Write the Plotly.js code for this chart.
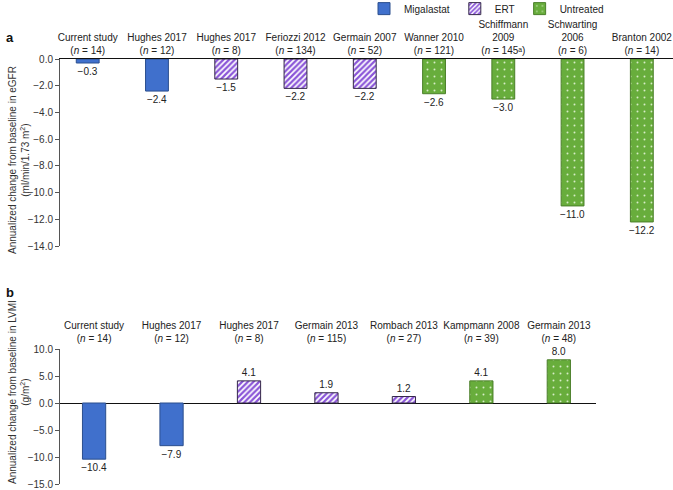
<!DOCTYPE html>
<html>
<head>
<meta charset="utf-8">
<script src="https://cdn.plot.ly/plotly-3.0.1.min.js"></script>
<style>html,body{margin:0;padding:0;background:#fff;}#chart{width:673px;height:490px;}</style>
</head>
<body>
<div id="chart"></div>
<script>
// ---- Data: panel a (eGFR) ----
const studiesA = ["Current study", "Hughes 2017", "Hughes 2017", "Feriozzi 2012", "Germain 2007", "Wanner 2010", "Schiffmann<br>2009", "Schwarting<br>2006", "Branton 2002"];
const nA = ["14", "12", "8", "134", "52", "121", "145\u1d43", "6", "14"];
const groupA = ["Migalastat", "Migalastat", "ERT", "ERT", "ERT", "Untreated", "Untreated", "Untreated", "Untreated"];
const egfrChange = [-0.3, -2.4, -1.5, -2.2, -2.2, -2.6, -3.0, -11.0, -12.2];

// ---- Data: panel b (LVMI) ----
const studiesB = ["Current study", "Hughes 2017", "Hughes 2017", "Germain 2013", "Rombach 2013", "Kampmann 2008", "Germain 2013"];
const nB = ["14", "12", "8", "115", "27", "39", "48"];
const groupB = ["Migalastat", "Migalastat", "ERT", "ERT", "ERT", "Untreated", "Untreated"];
const lvmiChange = [-10.4, -7.9, 4.1, 1.9, 1.2, 4.1, 8.0];

const groups = ["Migalastat", "ERT", "Untreated"];

// ---- Styles ----
const FONT = "Liberation Sans, Arial, Helvetica, sans-serif";
const styles = {
  Migalastat: {marker: {color: "#4070cc", line: {color: "#2b4f8e", width: 1}}},
  ERT: {marker: {color: "#ffffff", line: {color: "#35284a", width: 1},
         pattern: {shape: "/", fgcolor: "#8a55d8", bgcolor: "#ffffff", fgopacity: 1, size: 4, solidity: 0.55, fillmode: "overlay"}}},
  Untreated: {marker: {color: "#6aae3e", line: {color: "#4b7f2a", width: 1},
         pattern: {shape: ".", fgcolor: "#e4f3d6", bgcolor: "#68ad3c", fgopacity: 0.9, size: 7, solidity: 0.06, fillmode: "overlay"}}}
};

const labelsA = studiesA.map((s, i) => s + "<br>(<i>n</i> = " + nA[i] + ")");
const labelsB = studiesB.map((s, i) => s + "<br>(<i>n</i> = " + nB[i] + ")");
const fmt = v => v.toFixed(1).replace("-", "\u2212");

function makeTraces(labels, values, grp, xa, ya, showLegend, w) {
  return groups.map(g => {
    const idx = grp.map((v, i) => v === g ? i : -1).filter(i => i >= 0);
    return Object.assign({
      type: "bar", name: g, legendgroup: g, showlegend: showLegend,
      x: idx.map(i => labels[i]), y: idx.map(i => values[i]),
      text: idx.map(i => fmt(values[i])), textposition: "outside",
      textfont: {family: FONT, size: 10, color: "#222"},
      constraintext: "none", cliponaxis: false, width: w,
      xaxis: xa, yaxis: ya, hoverinfo: "skip"
    }, JSON.parse(JSON.stringify(styles[g])));
  });
}

const data = [].concat(
  makeTraces(labelsA, egfrChange, groupA, "x", "y", true, 0.33),
  makeTraces(labelsB, lvmiChange, groupB, "x2", "y2", false, 0.3)
);

const W = 673, H = 490;
const px = v => v / W, py = v => 1 - v / H;

const axisFont = {family: FONT, size: 10, color: "#333"};
const layout = {
  width: W, height: H,
  margin: {l: 0, r: 0, t: 0, b: 0, autoexpand: false},
  paper_bgcolor: "#fff", plot_bgcolor: "#fff",
  font: {family: FONT, size: 10, color: "#222"},
  barmode: "overlay",
  showlegend: true,
  legend: {orientation: "h", x: px(364), xanchor: "left", y: 1.012, yanchor: "top",
           font: {family: FONT, size: 10, color: "#222"}, itemwidth: 30, tracegroupgap: 0,
           bgcolor: "rgba(0,0,0,0)"},
  xaxis: {domain: [px(60), 1], anchor: "y", type: "category", categoryorder: "array", categoryarray: labelsA,
          range: [-0.4, 8.45], side: "top", showline: true, linecolor: "#111", linewidth: 1,
          ticks: "", showgrid: false, zeroline: false, tickfont: {family: FONT, size: 10, color: "#222"}, fixedrange: true},
  yaxis: {domain: [py(246), py(59)], anchor: "x", range: [-14, 0], dtick: 2, tick0: 0, tickformat: ".1f",
          ticks: "outside", ticklen: 4, tickcolor: "#555", showline: true, linecolor: "#555", linewidth: 1,
          showgrid: false, zeroline: false, tickfont: axisFont, fixedrange: true},
  xaxis2: {domain: [px(60), px(596)], anchor: "y2", type: "category", categoryorder: "array", categoryarray: labelsB,
          range: [-0.44, 6.48], side: "top", showline: false, ticklabelstandoff: 4,
          ticks: "", showgrid: false, zeroline: false, tickfont: {family: FONT, size: 10, color: "#222"}, fixedrange: true},
  yaxis2: {domain: [py(484), py(349)], anchor: "x2", range: [-15, 10], dtick: 5, tick0: 0, tickformat: ".1f",
          ticks: "outside", ticklen: 4, tickcolor: "#555", showline: true, linecolor: "#555", linewidth: 1,
          showgrid: false, zeroline: true, zerolinecolor: "#111", zerolinewidth: 1, tickfont: axisFont, fixedrange: true},
  annotations: [
    {text: "<b>a</b>", xref: "paper", yref: "paper", x: px(4), y: py(37), xanchor: "left", yanchor: "middle",
     showarrow: false, font: {family: FONT, size: 13, color: "#111"}},
    {text: "<b>b</b>", xref: "paper", yref: "paper", x: px(4), y: py(292), xanchor: "left", yanchor: "middle",
     showarrow: false, font: {family: FONT, size: 13, color: "#111"}},
    {text: "Annualized change from baseline in eGFR<br>(ml/min/1.73 m<sup>2</sup>)", xref: "paper", yref: "paper",
     x: px(19), y: py(160), xanchor: "center", yanchor: "middle", textangle: -90, showarrow: false,
     font: {family: FONT, size: 10, color: "#333"}},
    {text: "Annualized change from baseline in LVMI<br>(g/m<sup>2</sup>)", xref: "paper", yref: "paper",
     x: px(19), y: py(392), xanchor: "center", yanchor: "middle", textangle: -90, showarrow: false,
     font: {family: FONT, size: 10, color: "#333"}}
  ]
};

Plotly.newPlot("chart", data, layout, {displayModeBar: false, staticPlot: true});
</script>
</body>
</html>
